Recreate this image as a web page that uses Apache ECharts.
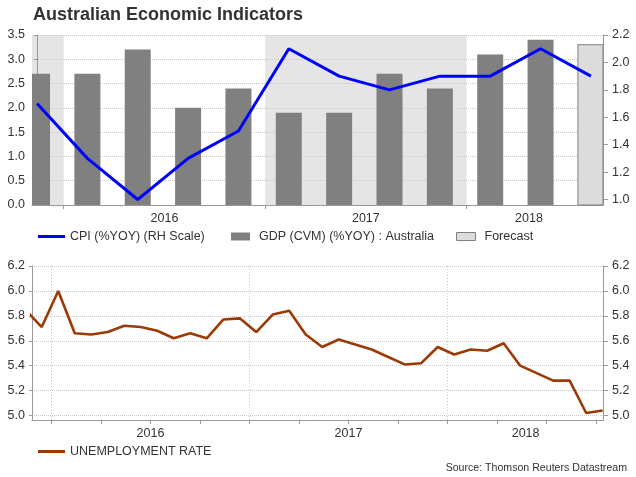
<!DOCTYPE html>
<html><head><meta charset="utf-8">
<script src="https://cdn.jsdelivr.net/npm/echarts@6/dist/echarts.min.js"></script>
<style>html,body{margin:0;padding:0;background:#fff}#c{width:636px;height:477px}</style>
</head><body><div id="c"></div>
<script>
// ---------- data ----------
const quarters = ['2015Q4','2016Q1','2016Q2','2016Q3','2016Q4','2017Q1','2017Q2','2017Q3','2017Q4','2018Q1','2018Q2','2018Q3'];
const gdp      = [2.7, 2.7, 3.2, 2.0, 2.4, 1.9, 1.9, 2.7, 2.4, 3.1, 3.4, null];
const gdpForecast = [null, null, null, null, null, null, null, null, null, null, null, 3.3];
const cpi      = [1.7, 1.3, 1.0, 1.3, 1.5, 2.1, 1.9, 1.8, 1.9, 1.9, 2.1, 1.9];
const months = ['2015-11','2015-12',
  '2016-01','2016-02','2016-03','2016-04','2016-05','2016-06','2016-07','2016-08','2016-09','2016-10','2016-11','2016-12',
  '2017-01','2017-02','2017-03','2017-04','2017-05','2017-06','2017-07','2017-08','2017-09','2017-10','2017-11','2017-12',
  '2018-01','2018-02','2018-03','2018-04','2018-05','2018-06','2018-07','2018-08','2018-09','2018-10'];
const unemployment = [5.85, 5.71,
  6.00, 5.66, 5.65, 5.67, 5.72, 5.71, 5.68, 5.62, 5.66, 5.62, 5.77, 5.78,
  5.67, 5.81, 5.84, 5.65, 5.55, 5.61, 5.57, 5.53, 5.47, 5.41, 5.42, 5.55,
  5.49, 5.53, 5.52, 5.58, 5.40, 5.34, 5.28, 5.28, 5.02, 5.04];
const years = ['2016', '2017', '2018'];
const rightTicksTop = [1.0, 1.2, 1.4, 1.6, 1.8, 2.0, 2.2];
const ticksBottom = [5.0, 5.2, 5.4, 5.6, 5.8, 6.0, 6.2];

// axis-domain positions (quarter index for top, month index for bottom)
const topYearStarts = [0.53, 4.53, 8.53];
const topYearLabelPos = [2.53, 6.53, 9.77];
const topShaded = [[-1, 0.53], [4.53, 8.53]];
const botYearStarts = [1.59, 13.59, 25.59];
const botQuarterTicks = [];
for (let v = 1.59; v < 35; v += 3) botQuarterTicks.push(+v.toFixed(2));
const botYearLabelPos = [7.59, 19.59, 30.33];

const FONT = 'Liberation Sans, Arial, sans-serif';
const TXT = '#333';
const AXC = '#999';
const GRIDC = '#c8c8c8';
const BAR_W = 26;

const chart = echarts.init(document.getElementById('c'), null, {renderer: 'canvas'});
const labelStyle = {fontFamily: FONT, fontSize: 12.5, color: TXT};

function barItem(params, api) {
  const cs = params.coordSys;
  const top = api.coord([api.value(0), api.value(1)]);
  const base = api.coord([api.value(0), 0]);
  const l = Math.max(top[0] - BAR_W / 2, cs.x);
  const r = Math.min(top[0] + BAR_W / 2, cs.x + cs.width);
  return {type: 'rect', shape: {x: l, y: top[1], width: r - l, height: base[1] - top[1]},
          style: api.style()};
}
const toPairs = arr => arr.map((v, i) => [i, v]).filter(p => p[1] != null);

chart.setOption({
  animation: false,
  backgroundColor: '#fff',
  title: [
    {text: 'Australian Economic Indicators', left: 33, top: 6, padding: 0,
     textStyle: {fontFamily: FONT, fontSize: 18, fontWeight: 'bold', color: '#333'}},
    {text: 'Source: Thomson Reuters Datastream', right: 9, top: 463, padding: 0,
     textStyle: {fontFamily: FONT, fontSize: 10.6, fontWeight: 'normal', color: '#333'}}
  ],
  legend: [
    {left: 38, top: 230, padding: 0, itemWidth: 27, itemHeight: 8, itemGap: 0, selectedMode: false,
     textStyle: labelStyle,
     data: [{name: 'CPI (%YOY) (RH Scale)', icon: 'path://M0,0H27V3H0Z', itemStyle: {borderWidth: 0}}]},
    {left: 231, top: 230, padding: 0, itemWidth: 27, itemHeight: 8, itemGap: 0, selectedMode: false,
     textStyle: labelStyle,
     data: [{name: 'GDP (CVM) (%YOY) : Australia', icon: 'path://M0,0H19V8H0Z', itemStyle: {borderWidth: 0}}]},
    {left: 456, top: 230, padding: 0, itemWidth: 27, itemHeight: 8, itemGap: 0, selectedMode: false,
     textStyle: labelStyle,
     data: [{name: 'Forecast', icon: 'path://M0,0H19V8H0Z', itemStyle: {borderWidth: 1, borderColor: '#808080'}}]},
    {left: 38, top: 445, padding: 0, itemWidth: 27, itemHeight: 8, itemGap: 0, selectedMode: false,
     textStyle: labelStyle,
     data: [{name: 'UNEMPLOYMENT RATE', icon: 'path://M0,0H27V3H0Z', itemStyle: {borderWidth: 0}}]}
  ],
  grid: [
    {left: 32, top: 35, width: 571, height: 170},
    {left: 32, top: 266, width: 571, height: 154}
  ],
  xAxis: [
    {type: 'value', gridIndex: 0, min: -0.1, max: 11.24,
     axisLine: {show: true, onZero: false, lineStyle: {color: AXC, width: 1}},
     axisTick: {show: true, length: 4, customValues: topYearStarts, lineStyle: {color: AXC}},
     axisLabel: {show: true, customValues: topYearLabelPos, margin: 7, ...labelStyle,
       formatter: v => { const i = topYearLabelPos.findIndex(p => Math.abs(p - v) < 1e-6); return i >= 0 ? years[i] : ''; }},
     splitLine: {show: false}},
    {type: 'value', gridIndex: 1, min: 0.41, max: 35.02,
     axisLine: {show: true, onZero: false, lineStyle: {color: AXC, width: 1}},
     axisTick: {show: true, length: 4, customValues: botQuarterTicks, lineStyle: {color: AXC}},
     axisLabel: {show: true, customValues: botYearLabelPos, margin: 7, ...labelStyle,
       formatter: v => { const i = botYearLabelPos.findIndex(p => Math.abs(p - v) < 1e-6); return i >= 0 ? years[i] : ''; }},
     splitLine: {show: false}}
  ],
  yAxis: [
    {type: 'value', gridIndex: 0, position: 'left', min: 0, max: 3.5, interval: 0.5,
     axisLine: {show: true, lineStyle: {color: AXC}},
     axisTick: {show: true, length: 3, lineStyle: {color: AXC}},
     axisLabel: {margin: 7, ...labelStyle, formatter: v => v.toFixed(1)},
     splitLine: {show: true, lineStyle: {color: GRIDC, type: 'dotted', width: 1}}},
    {type: 'value', gridIndex: 0, position: 'right', min: 0.96, max: 2.2,
     axisLine: {show: true, lineStyle: {color: AXC}},
     axisTick: {show: true, length: 5, customValues: rightTicksTop, lineStyle: {color: AXC}},
     axisLabel: {margin: 9, customValues: rightTicksTop, ...labelStyle, formatter: v => v.toFixed(1)},
     splitLine: {show: false}},
    {type: 'value', gridIndex: 1, position: 'left', min: 4.964, max: 6.2,
     axisLine: {show: true, lineStyle: {color: AXC}},
     axisTick: {show: true, length: 3, customValues: ticksBottom, lineStyle: {color: AXC}},
     axisLabel: {margin: 7, customValues: ticksBottom, ...labelStyle, formatter: v => v.toFixed(1)},
     splitLine: {show: true, lineStyle: {color: GRIDC, type: 'dotted', width: 1}}},
    {type: 'value', gridIndex: 1, position: 'right', min: 4.964, max: 6.2,
     axisLine: {show: true, lineStyle: {color: AXC}},
     axisTick: {show: true, length: 5, customValues: ticksBottom, lineStyle: {color: AXC}},
     axisLabel: {margin: 9, customValues: ticksBottom, ...labelStyle, formatter: v => v.toFixed(1)},
     splitLine: {show: false}}
  ],
  series: [
    {name: 'shade', type: 'custom', xAxisIndex: 0, yAxisIndex: 0, z: -1, silent: true,
     data: topShaded, encode: {x: [0, 1]},
     renderItem: (params, api) => {
       const cs = params.coordSys;
       const a = api.coord([api.value(0), 0])[0];
       const b = api.coord([api.value(1), 0])[0];
       const l = Math.max(a, cs.x), r = Math.min(b, cs.x + cs.width);
       return {type: 'rect', shape: {x: l, y: cs.y, width: r - l, height: cs.height}, style: {fill: '#e5e5e5'}};
     }},
    {name: 'GDP (CVM) (%YOY) : Australia', type: 'custom', xAxisIndex: 0, yAxisIndex: 0, z: 2,
     itemStyle: {color: '#808080'}, encode: {x: 0, y: 1},
     renderItem: barItem, data: toPairs(gdp)},
    {name: 'Forecast', type: 'custom', xAxisIndex: 0, yAxisIndex: 0, z: 2,
     itemStyle: {color: '#dcdcdc', borderColor: '#808080', borderWidth: 1}, encode: {x: 0, y: 1},
     renderItem: barItem, data: toPairs(gdpForecast)},
    {name: 'CPI (%YOY) (RH Scale)', type: 'line', xAxisIndex: 0, yAxisIndex: 1, z: 5,
     showSymbol: false, symbol: 'none', clip: true,
     itemStyle: {color: '#0000ff'}, lineStyle: {color: '#0000ff', width: 3},
     data: cpi.map((v, i) => [i, v])},
    {name: 'yearlines', type: 'custom', xAxisIndex: 1, yAxisIndex: 2, z: 1, silent: true,
     data: botYearStarts.map(v => [v]), encode: {x: 0},
     renderItem: (params, api) => {
       const cs = params.coordSys;
       const x = Math.round(api.coord([api.value(0), 5])[0]) + 0.5;
       return {type: 'line', shape: {x1: x, y1: cs.y, x2: x, y2: cs.y + cs.height},
               style: {stroke: GRIDC, lineWidth: 1, lineDash: [1, 2]}};
     }},
    {name: 'UNEMPLOYMENT RATE', type: 'line', xAxisIndex: 1, yAxisIndex: 2, z: 5,
     showSymbol: false, symbol: 'none', clip: true,
     itemStyle: {color: '#9c3a06'}, lineStyle: {color: '#9c3a06', width: 2.6},
     data: unemployment.map((v, i) => [i, v])}
  ]
});
</script>
</body></html>
